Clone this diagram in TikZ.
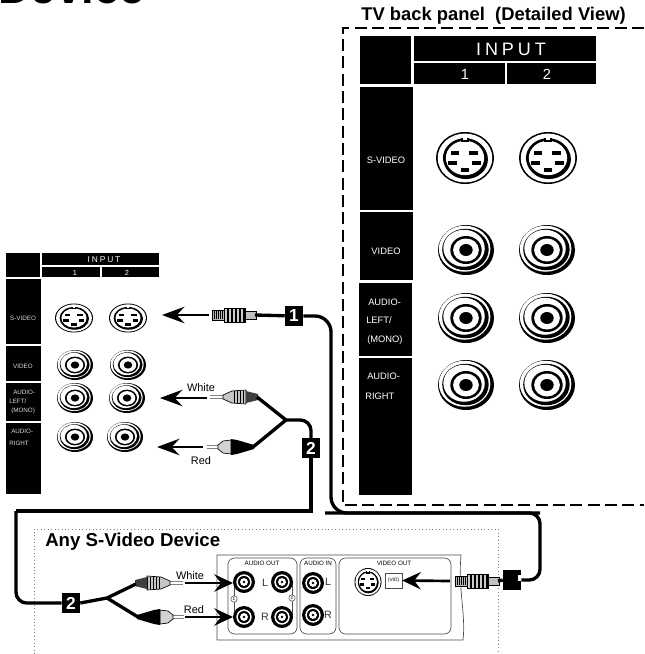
\documentclass[tikz,border=0pt]{standalone}
\usepackage{fontspec}
\setmainfont{Liberation Sans}
\newfontfamily\widefont[LetterSpace=22]{Liberation Sans}
\usetikzlibrary{arrows.meta, positioning}

\tikzset{
    cable/.style={line width=2.5pt, black},
    feed/.style={line width=1.1pt, -{Stealth[length=17pt, width=12.5pt, inset=6pt]}},
    feedfat/.style={line width=2pt, -{Stealth[length=14pt, width=13pt, inset=5pt]}},
    tag/.style={fill=black, text=white, font=\bfseries\fontsize{13}{13}\selectfont, inner sep=0pt, minimum width=13.5pt, minimum height=14.5pt},
    cellbig/.style={text=white, font=\fontsize{7}{7}\selectfont, inner sep=0pt},
    cellsmall/.style={text=white!85!black, font=\fontsize{4.7}{5}\selectfont, inner sep=0pt},
    wire/.style={font=\fontsize{8.2}{9}\selectfont, inner sep=0pt},
    tiny/.style={font=\fontsize{4.7}{5}\selectfont, inner sep=0pt},
    panel/.style={draw=black!70, line width=0.5pt},
    pics/rcajack/.style={code={
        \fill[black] (0,0) circle[radius=1];
        \fill[white] (-0.05,-0.05) circle[radius=0.92];
        \fill[black] (-0.02,-0.02) circle[radius=0.83];
        \fill[white] (-0.07,-0.07) circle[radius=0.74];
        \fill[black] (0,0) circle[radius=0.56];
        \fill[white] (0,0) circle[radius=0.46];
        \fill[black] (0,0) circle[radius=0.24];
    }},
    pics/darkjack/.style={code={
        \fill[black] (0,0) circle[radius=1];
        \fill[white] (0,0) circle[radius=0.7];
        \fill[black] (0,0) circle[radius=0.55];
        \fill[white] (0,0) circle[radius=0.36];
        \fill[black] (0,0) circle[radius=0.12];
    }},
    pics/svjack/.style={code={
        \fill[black] (0,0) circle[radius=1];
        \fill[white] (0,0) circle[radius=0.94];
        \fill[black] (0,0) circle[radius=0.76];
        \fill[black] (0.03,0.05) circle[radius=0.76];
        \fill[white] (0,0) circle[radius=0.66];
        \fill[black] (-0.13,-0.78) rectangle (0.13,-0.6);
        \fill[white] (-0.06,-0.8) rectangle (0.06,-0.68);
        \foreach \px/\py in {-0.35/-0.2, 0.3/-0.2, -0.43/0.18, 0.39/0.18, 0/0.45}
            \fill[black] (\px-0.15,\py-0.08) rectangle (\px+0.15,\py+0.08);
    }},
    pics/svplug/.style={code={
        \draw[black, fill=gray!55, line width=0.6pt] (0,-5) rectangle (12,5);
        \foreach \hx in {2,4,...,10}
            \draw[black, line width=0.4pt] (\hx,-4) -- (\hx,4);
        \draw[black, fill=gray!40, line width=0.6pt] (12,-7) rectangle (33,7);
        \foreach \hx in {16,20,...,32}
            \draw[black, line width=0.8pt] (\hx,-7) -- (\hx,7);
        \draw[black, fill=gray!50, line width=0.6pt] (33,-4) rectangle (44,4);
    }},
    pics/whiteplug/.style={code={
        \draw[gray, line width=0.5pt] (0,-1.5) -- (13,-1.5) (0,1.5) -- (13,1.5);
        \draw[black, fill=gray!45, line width=0.5pt] (13,-2) -- (22,-6) -- (36,-7) -- (36,7) -- (22,6) -- (13,2) -- cycle;
        \foreach \hx in {24,27,...,36}
            \draw[black, line width=0.7pt] (\hx,-6) -- (\hx,6);
        \fill[black!75] (36,-6) -- (48,-3) -- (48,3) -- (36,6) -- cycle;
    }},
    pics/redplug/.style={code={
        \draw[gray, line width=0.5pt] (0,-1.5) -- (11,-1.5) (0,1.5) -- (11,1.5);
        \draw[black, fill=gray!35, line width=0.5pt] (11,-2) -- (16,-6) -- (24,-7) -- (24,7) -- (16,6) -- (11,2) -- cycle;
        \fill[black] (24,-8) -- (30,-7) -- (47,-2) -- (47,2) -- (30,7) -- (24,8) -- cycle;
    }},
}

\begin{document}
\begin{tikzpicture}[x=0.75pt, y=-0.75pt]
    \useasboundingbox (0,0) rectangle (644,654);
    \clip (0,0) rectangle (644,654);

    % Page heading cut off by the page edge
    \node[anchor=base west, inner sep=0pt, font=\bfseries\fontsize{34}{34}\selectfont] (heading) at (-2,3.5) {Device};

    % TV panel frame
    \node[anchor=west, inner sep=0pt, font=\bfseries\fontsize{13.8}{14}\selectfont] (tvtitle) at (361,16) {TV back panel\ \ (Detailed View)};
    \draw[line width=0.8pt, dash pattern=on 9pt off 4pt] (644,28) -- (343,28) -- (343,505) -- (644,505);

    % Black header and side cells, both panels
    \foreach \xa/\ya/\xb/\yb in {360/36/411/84, 414/36/596/61, 414/63/505/84, 507/63/596/84,
        360/87/413/210, 360/212/413/280, 359/283/412/356, 359/358/412/495,
        6/253/40/277, 42/253/159/265, 42/267/100/277, 102/267/159/277,
        6/279/41/344, 6/346/41/381, 6/383/41/421, 6/423/41/494}
        \fill[black] (\xa,\ya) rectangle (\xb,\yb);

    % TV panel labels
    \node[text=white, inner sep=0pt, font=\widefont\fontsize{13.5}{14}\selectfont] (tvinput) at (511,49) {INPUT};
    \node[text=white, inner sep=0pt, font=\fontsize{11}{11}\selectfont] (tvone) at (465,74) {1};
    \node[text=white, inner sep=0pt, font=\fontsize{11}{11}\selectfont] (tvtwo) at (547,74) {2};
    \node[cellbig] (tvsv) at (386,160) {S-VIDEO};
    \node[cellbig] (tvvideo) at (386,251) {VIDEO};
    \node[cellbig, anchor=west] (tvaudl) at (368,302) {AUDIO-};
    \node[cellbig, anchor=west] (tvleft) at (366,320) {LEFT/};
    \node[cellbig, anchor=west] (tvmono) at (367,340) {(MONO)};
    \node[cellbig, anchor=west] (tvaudr) at (367,376) {AUDIO-};
    \node[cellbig, anchor=west] (tvright) at (365,396) {RIGHT};

    % Side panel labels
    \node[text=white, inner sep=0pt, font=\widefont\fontsize{6.3}{7}\selectfont] (sdinput) at (104,260) {INPUT};
    \node[text=white, inner sep=0pt, font=\fontsize{5.5}{6}\selectfont] (sdone) at (75,273) {1};
    \node[text=white, inner sep=0pt, font=\fontsize{5.5}{6}\selectfont] (sdtwo) at (127,273) {2};
    \node[cellsmall] (sdsv) at (23,318) {S-VIDEO};
    \node[cellsmall] (sdvideo) at (23,366) {VIDEO};
    \node[cellsmall, anchor=west] (sdaudl) at (13,392) {AUDIO-};
    \node[cellsmall, anchor=west] (sdleft) at (9,401) {LEFT/};
    \node[cellsmall, anchor=west] (sdmono) at (11,411) {(MONO)};
    \node[cellsmall, anchor=west] (sdaudr) at (11,431) {AUDIO-};
    \node[cellsmall, anchor=west] (sdright) at (9,443) {RIGHT};

    % Sockets
    \foreach \cx in {465,548} {
        \pic[xscale=29, yscale=26] at (\cx,158) {svjack};
    }
    \foreach \cx in {466,547} {
        \foreach \cy in {250,318,385} {
            \pic[xscale=28, yscale=25] at (\cx,\cy) {rcajack};
        }
    }
    \foreach \cx in {74,128} {
        \pic[xscale=19, yscale=14.5] at (\cx,318) {svjack};
    }
    \foreach \cx/\cy in {75/365, 128/365, 75/398, 127/398, 75/437, 125/437} {
        \pic[xscale=18, yscale=15] at (\cx,\cy) {rcajack};
    }

    % Device frame and rear panel
    \draw[dotted, gray, line width=0.6pt] (34,654) -- (34,529) -- (498,529) -- (498,654);
    \node[anchor=west, inner sep=0pt, font=\bfseries\fontsize{14}{14}\selectfont] (devtitle) at (45,542) {Any S-Video Device};
    \draw[panel, fill=white] (461,555) -- (217,555) -- (217,640) -- (463,640) .. controls (466,615) and (458,590) .. cycle;
    \draw[panel, rounded corners=5pt] (228,558) rectangle (297,634);
    \draw[panel, rounded corners=5pt] (300,558) rectangle (336,634);
    \draw[panel, rounded corners=5pt] (339,558) rectangle (451,634);
    \node[tiny] (audout) at (262,563) {AUDIO OUT};
    \node[tiny] (audin) at (318,563) {AUDIO IN};
    \node[tiny] (vidout) at (394,563) {VIDEO OUT};

    % Audio out links between the sockets
    \node[draw=black!70, circle, line width=0.4pt, inner sep=0.6pt, fill=white, font=\fontsize{3.5}{4}\selectfont] (linkone) at (234,599) {1};
    \node[draw=black!70, circle, line width=0.4pt, inner sep=0.6pt, fill=white, font=\fontsize{3.5}{4}\selectfont] (linktwo) at (292,598) {2};
    \draw[black!70, line width=0.4pt] (linkone) |- (244,582);
    \draw[black!70, line width=0.4pt] (linkone) |- (244,617);
    \draw[black!70, line width=0.4pt] (linktwo) |- (282,582);
    \draw[black!70, line width=0.4pt] (linktwo) |- (282,617);
    \foreach \cx/\cy in {244/582, 282/582, 244/617, 282/617, 313/583, 313/615} {
        \pic[xscale=11, yscale=11] at (\cx,\cy) {darkjack};
    }
    \pic[xscale=13.5, yscale=14] at (368,582) {svjack};
    \foreach \lx/\ly/\ltext in {265/583/L, 265/617/R, 328/582/L, 328/615/R} {
        \node[text=black!80, inner sep=0pt, font=\fontsize{8}{8}\selectfont] at (\lx,\ly) {\ltext};
    }
    \node[draw=black!70, fill=white, line width=0.5pt, inner sep=0pt, minimum width=12.5pt, minimum height=11pt, font=\fontsize{3.6}{4}\selectfont] (vidbox) at (393.5,580.5) {(VID)};

    % Plugs
    \pic at (212,315) {svplug};
    \pic at (455,581) {svplug};
    \pic at (210,397) {whiteplug};
    \pic at (207,447) {redplug};
    \pic[xscale=-1] at (183,583) {whiteplug};
    \pic[xscale=-1] at (184,617) {redplug};

    % Cable ends and bends
    \coordinate (plugsvA) at (255,315);
    \coordinate (plugsvB) at (498,581);
    \coordinate (plugW) at (257,397);
    \coordinate (plugR) at (253,447);
    \coordinate (plugdevW) at (136,584);
    \coordinate (plugdevR) at (138,617);
    \coordinate (splitTV) at (286,420);
    \coordinate (splitDev) at (107,598);
    \coordinate (bendA) at (331,513);
    \coordinate (bendB) at (540,513);
    \coordinate (bendD) at (16,511);

    % Numbered tags and the black block
    \node[tag] (tagone) at (294,316) {1};
    \node[tag] (tagtwoA) at (311,448) {2};
    \node[tag] (tagtwoB) at (71,603) {2};
    \node[fill=black, inner sep=0pt, minimum width=13.5pt, minimum height=15pt] (block) at (512,580) {};
    \fill[white] (521,575) rectangle (518,581);

    % Cables
    \draw[cable] (plugsvA) -- (tagone);
    \draw[cable, rounded corners=12pt] (tagone.east) -| (bendA) -- (bendB);
    \draw[cable, rounded corners=8pt] (bendA) ++(-6,0) -- (bendB) |- (block.east);
    \draw[cable] (plugsvB) -- (block.west);
    \draw[cable] (plugW) -- (splitTV);
    \draw[cable] (plugR) -- (splitTV);
    \draw[cable, rounded corners=8pt] (splitTV) -| (tagtwoA.north);
    \draw[cable] (tagtwoA.south) |- (bendD);
    \draw[cable, rounded corners=8pt] (bendD) |- (tagtwoB.west);
    \draw[cable] (tagtwoB.east) -- (splitDev);
    \draw[cable] (splitDev) -- (plugdevW);
    \draw[cable] (splitDev) -- (plugdevR);

    % Arrows towards the sockets
    \coordinate (startsv) at (209,315);
    \coordinate (tipsv) at (162,315);
    \coordinate (startW) at (207,398);
    \coordinate (tipW) at (160,398);
    \coordinate (startR) at (203,447);
    \coordinate (tipR) at (157,447);
    \draw[feed] (startsv) -- (tipsv);
    \draw[feed] (startW) -- (tipW);
    \draw[feed] (startR) -- (tipR);
    \coordinate (startdevW) at (185,583);
    \coordinate (tipdevW) at (233,583);
    \coordinate (startdevR) at (185,617);
    \coordinate (tipdevR) at (233,617);
    \coordinate (startvid) at (450,581);
    \draw[feedfat] (startdevW) -- (tipdevW);
    \draw[feedfat] (startdevR) -- (tipdevR);
    \draw[feedfat] (startvid) -- (vidbox.east);

    % Wire colours
    \node[wire] (wlabel) at (201,388) {White};
    \node[wire] (rlabel) at (201,461) {Red};
    \node[wire] (wdev) at (190,576) {White};
    \node[wire] (rdev) at (194,610) {Red};
\end{tikzpicture}
\end{document}
